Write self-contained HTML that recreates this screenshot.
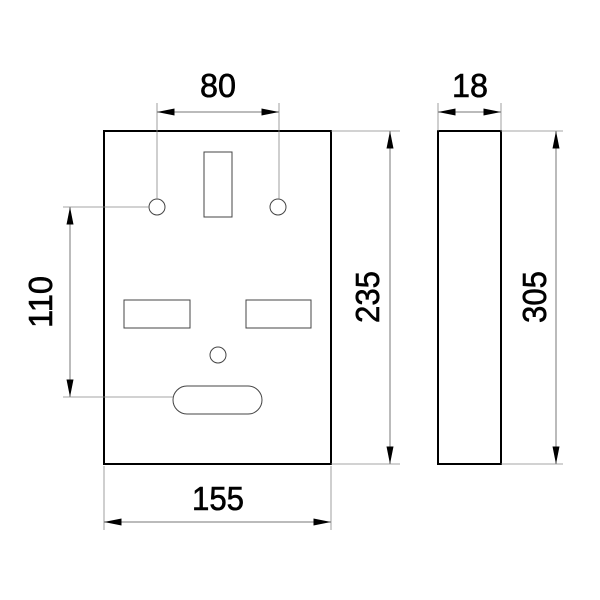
<!DOCTYPE html>
<html><head><style>body{margin:0;background:#fff}svg{display:block}</style></head><body>
<svg width="600" height="600" viewBox="0 0 600 600" xmlns="http://www.w3.org/2000/svg">
<defs>
<marker id="a" viewBox="0 0 10 4" refX="10" refY="2" markerWidth="24" markerHeight="7" markerUnits="userSpaceOnUse" orient="auto-start-reverse"><path d="M0,0 L10,2 L0,4z" fill="#000"/></marker>
</defs>
<g fill="none" stroke="#000">
<rect x="104" y="131" width="227" height="333" stroke-width="2"/>
<rect x="438" y="131" width="63" height="333" stroke-width="2"/>
<g stroke-width="1" stroke="#444">
<rect x="204" y="152" width="28" height="65"/>
<circle cx="157" cy="207" r="8"/><circle cx="278" cy="207" r="8"/>
<rect x="124" y="300" width="66" height="28"/>
<rect x="246" y="300" width="65" height="28"/>
<circle cx="218" cy="355" r="8"/>
<rect x="173" y="386" width="89" height="28" rx="14"/>
</g>
<g stroke-width="0.8" stroke="#888">
<path d="M157,103V199M279,103V199M104,466V530M331,466V530M63,207H149M63,397H173M331,131H400M331,464H400M438,103V131M501,103V131M501,131H563M501,464H563"/>
</g>
<g stroke-width="1" stroke="#777">
<path d="M157,112H279" marker-start="url(#a)" marker-end="url(#a)"/>
<path d="M104,522H331" marker-start="url(#a)" marker-end="url(#a)"/>
<path d="M70,207V397" marker-start="url(#a)" marker-end="url(#a)"/>
<path d="M390,131V464" marker-start="url(#a)" marker-end="url(#a)"/>
<path d="M556,131V464" marker-start="url(#a)" marker-end="url(#a)"/>
<path d="M438,112H501" marker-start="url(#a)" marker-end="url(#a)"/>
</g>
</g>
<g font-family="Liberation Sans, sans-serif" font-size="33" text-anchor="middle" fill="#000" stroke="#000" stroke-width="0.6">
<text x="218" y="97" textLength="36" lengthAdjust="spacingAndGlyphs">80</text>
<text x="470" y="97" textLength="36" lengthAdjust="spacingAndGlyphs">18</text>
<text x="218" y="510" textLength="52" lengthAdjust="spacingAndGlyphs">155</text>
<text transform="translate(52,302) rotate(-90)" textLength="52" lengthAdjust="spacingAndGlyphs">110</text>
<text transform="translate(379,297) rotate(-90)" textLength="52" lengthAdjust="spacingAndGlyphs">235</text>
<text transform="translate(546,297) rotate(-90)" textLength="52" lengthAdjust="spacingAndGlyphs">305</text>
</g>
</svg>
</body></html>
